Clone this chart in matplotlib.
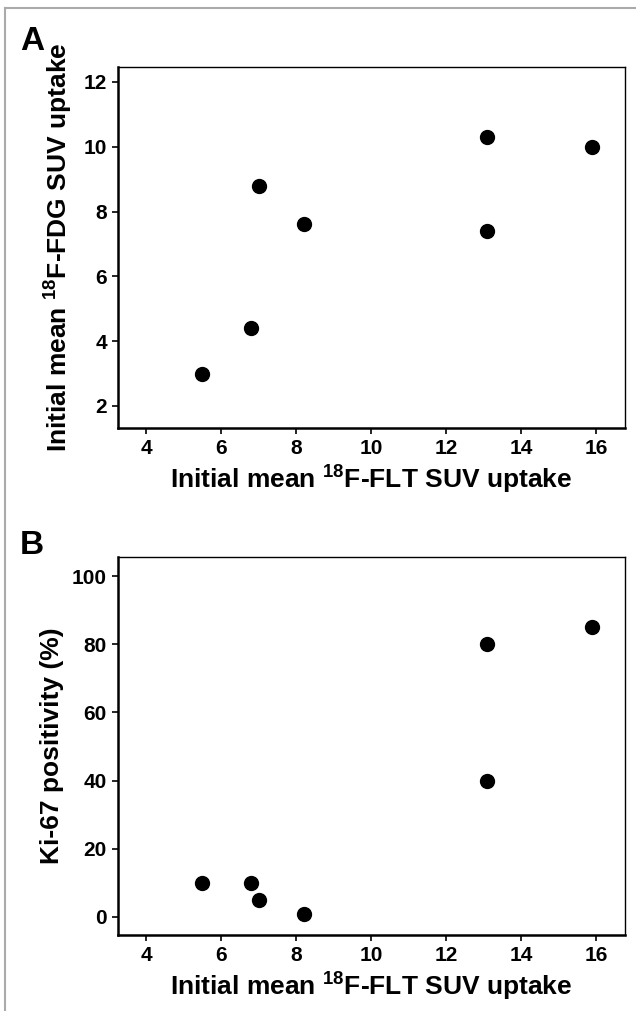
import matplotlib.pyplot as plt
from matplotlib.lines import Line2D

plt.rcParams["font.family"] = ["Liberation Sans", "DejaVu Sans"]
plt.rcParams["font.weight"] = "bold"

# FLT SUV uptake (shared x)
flt_suv = [5.5, 6.8, 7.0, 8.2, 13.1, 13.1, 15.9]
# panel A: FDG SUV uptake
fdg_suv = [3.0, 4.4, 8.8, 7.6, 10.3, 7.4, 10.0]
# panel B: Ki-67 positivity (%)
ki67 = [10, 10, 5, 1, 80, 40, 85]

x_ticks = [4, 6, 8, 10, 12, 14, 16]
fdg_ticks = [2, 4, 6, 8, 10, 12]
ki67_ticks = [0, 20, 40, 60, 80, 100]

W, H = 636, 1011
fig = plt.figure(figsize=(W / 100, H / 100), dpi=100)


def make_axes(left, top, right, bottom):
    return fig.add_axes([left / W, 1 - bottom / H, (right - left) / W, (bottom - top) / H])


def style(ax):
    for side in ["left", "bottom"]:
        ax.spines[side].set_linewidth(1.8)
    for side in ["top", "right"]:
        ax.spines[side].set_linewidth(1.0)
    ax.tick_params(direction="out", length=4, width=1.2, labelsize=15, pad=4)
    for lab in ax.get_xticklabels() + ax.get_yticklabels():
        lab.set_fontweight("bold")


xlab = r"Initial mean $\mathregular{^{18}}$F-FLT SUV uptake"

# * Panel A
ax1 = make_axes(118, 67, 625, 428)
ax1.scatter(flt_suv, fdg_suv, s=100, color="black", zorder=3)
ax1.set_xlim(3.25, 16.77)
ax1.set_ylim(1.32, 12.46)
ax1.set_xticks(x_ticks)
ax1.set_yticks(fdg_ticks)
style(ax1)
ax1.set_xlabel(xlab, fontsize=19, fontweight="bold", labelpad=4)
ax1.set_ylabel(r"Initial mean $\mathregular{^{18}}$F-FDG SUV uptake", fontsize=19, fontweight="bold", labelpad=6)

# * Panel B
ax2 = make_axes(118, 557, 625, 935)
ax2.scatter(flt_suv, ki67, s=100, color="black", zorder=3)
ax2.set_xlim(3.25, 16.77)
ax2.set_ylim(-5.3, 105.6)
ax2.set_xticks(x_ticks)
ax2.set_yticks(ki67_ticks)
style(ax2)
ax2.set_xlabel(xlab, fontsize=19, fontweight="bold", labelpad=4)
ax2.set_ylabel("Ki-67 positivity (%)", fontsize=19, fontweight="bold", labelpad=6)

fig.text(20 / W, 1 - 42 / H, "A", fontsize=24, fontweight="bold", va="center")
fig.text(20 / W, 1 - 546 / H, "B", fontsize=24, fontweight="bold", va="center")

# gray frame (top and left edges)
fig.add_artist(Line2D([5 / W, 1], [1 - 8 / H, 1 - 8 / H], color="#aaaaaa", lw=1.5))
fig.add_artist(Line2D([5 / W, 5 / W], [0, 1 - 8 / H], color="#aaaaaa", lw=1.5))

fig.savefig("out.png", dpi=100)
